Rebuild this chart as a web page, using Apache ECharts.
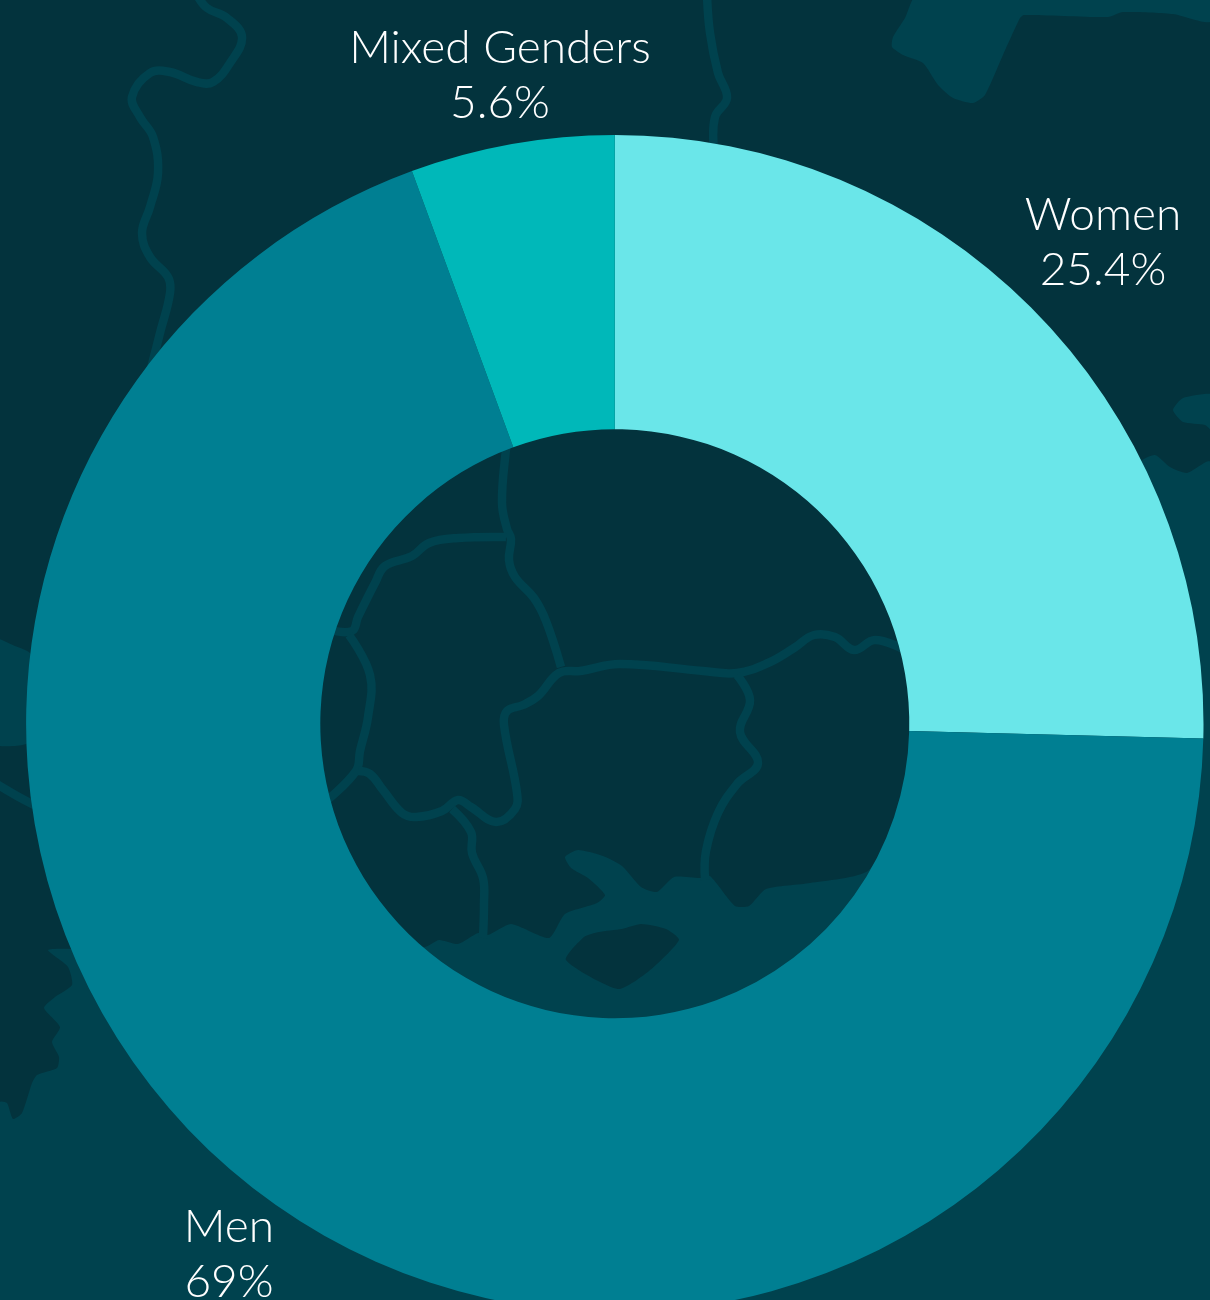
<!DOCTYPE html>
<html>
<head>
<meta charset="utf-8">
<style>
  html, body { margin: 0; padding: 0; background: #03333d; overflow: hidden; }
  #main { width: 1210px; height: 1300px; }
</style>
<script src="https://cdn.jsdelivr.net/npm/echarts@6/dist/echarts.min.js"></script>
</head>
<body>
<div id="main"></div>
<script>
  // chart data
  const categories = ['Women', 'Men', 'Mixed Genders'];
  const shares = [25.4, 69, 5.6];
  const sliceColors = ['#6ae6e9', '#007f92', '#00b8b9'];
  const labelSpots = [[1103, 243], [229, 1255], [500, 76]];

  // background map, just decoration behind the donut
  const seaColor = '#00424e';
  const seaBottom = [[0,1102],[7,1103],[13,1119],[22,1113],[32,1083],[37,1075],[57,1068],[59,1057],[52,1042],[60,1027],[44,1008],[55,997],[72,985],[68,967],[48,950],[75,949],[300,960],[425,947],[439,940],[458,944],[478,933],[488,935],[511,924],[549,938],[565,914],[597,903],[605,895],[588,878],[571,868],[565,857],[578,850],[603,856],[622,866],[641,887],[657,892],[674,877],[700,878],[710,876],[735,906],[749,906],[766,889],[810,883],[869,870],[1000,700],[1140,462],[1155,455],[1170,467],[1187,473],[1210,462],[1210,1300],[0,1300]];
  const seaTopRight = [[917,-5],[905,18],[893,37],[892,47],[903,55],[923,63],[938,85],[953,98],[973,103],[985,95],[1003,55],[1020,18],[1024,15],[1108,17],[1123,12],[1173,14],[1210,22],[1215,-5]];
  const seaRight = [[1215,395],[1183,398],[1173,410],[1183,422],[1205,425],[1215,433]];
  const seaLeft = [[-5,639],[15,646],[30,653],[60,700],[28,743],[14,746],[-5,744]];
  const islandDark = [[566,960],[584,937],[599,932],[622,929],[641,924],[666,929],[679,940],[649,971],[618,989]];
  const rivers = [
    [[197,-5],[207,8],[227,18],[242,37],[230,63],[213,82],[197,82],[170,72],[150,73],[132,97],[140,117],[153,137],[158,173],[150,207],[142,233],[150,257],[168,277],[170,293],[160,333],[150,372]],
    [[707,-5],[710,33],[718,73],[727,98],[715,117],[714,150]],
    [[508,440],[506,449],[502,503],[507,529],[511,539],[509,560],[515,577],[534,598],[546,621],[561,667]],
    [[506,537],[458,538],[429,543],[412,556],[385,566],[375,583],[358,617],[352,631],[330,630]],
    [[349,635],[370,675],[368,717],[360,751],[356,771],[325,802]],
    [[358,771],[370,774],[383,790],[402,813],[416,817],[442,811],[458,800],[471,807],[496,822],[515,809],[517,793],[504,725],[507,711],[523,705],[538,696],[559,673],[580,671],[620,664],[703,671],[737,673],[768,663],[794,648],[814,635],[835,637],[854,650],[875,640],[905,650]],
    [[452,809],[471,832],[472,853],[483,878],[484,904],[483,938]],
    [[737,675],[750,700],[740,732],[758,763],[737,784],[718,813],[706,851],[705,880]],
    [[-5,783],[17,796],[40,808]]
  ];

  const mapFills = [seaBottom, seaTopRight, seaRight, seaLeft].map(function (pts) {
    return { type: 'polygon', silent: true, shape: { points: pts, smooth: 0.2 }, style: { fill: seaColor } };
  });
  mapFills.push({ type: 'polygon', silent: true, shape: { points: islandDark, smooth: 0.2 }, style: { fill: '#03333d' } });
  const mapLines = rivers.map(function (pts) {
    return {
      type: 'polyline', silent: true,
      shape: { points: pts, smooth: 0.4 },
      style: { fill: null, stroke: seaColor, lineWidth: 8.5, lineJoin: 'round' }
    };
  });

  const myChart = echarts.init(document.getElementById('main'));
  myChart.setOption({
    animation: false,
    backgroundColor: '#03333d',
    graphic: { elements: mapFills.concat(mapLines) },
    series: [
      {
        type: 'pie',
        center: [614.8, 723.7],
        radius: [294.5, 588.7],
        startAngle: 90,
        clockwise: true,
        itemStyle: { borderWidth: 0 },
        emphasis: { disabled: true },
        labelLine: { show: false },
        label: {
          show: true,
          color: '#ffffff',
          fontFamily: 'Lato',
          fontWeight: 300,
          fontSize: 46,
          lineHeight: 55,
          width: 420,
          overflow: 'none',
          align: 'center',
          formatter: function (p) { return p.name + '\n' + p.value + '%'; }
        },
        labelLayout: function (p) {
          return { x: labelSpots[p.dataIndex][0], y: labelSpots[p.dataIndex][1], align: 'center', verticalAlign: 'middle' };
        },
        data: categories.map(function (name, i) {
          return { name: name, value: shares[i], itemStyle: { color: sliceColors[i] } };
        })
      }
    ]
  });
</script>
</body>
</html>
